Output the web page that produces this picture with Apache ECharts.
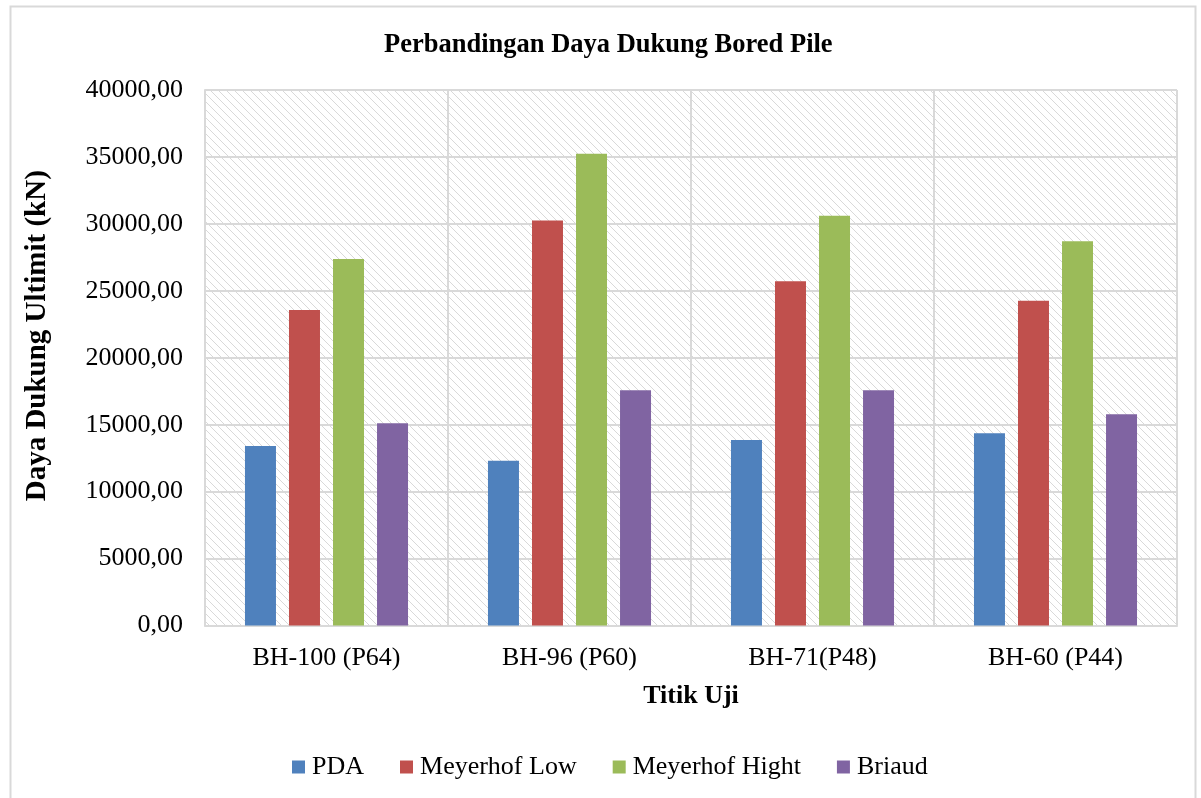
<!DOCTYPE html>
<html>
<head>
<meta charset="utf-8">
<script src="https://cdn.jsdelivr.net/npm/echarts@6/dist/echarts.min.js"></script>
<style>
html,body{margin:0;padding:0;background:#fff;}
#chart{width:1201px;height:798px;}
</style>
</head>
<body>
<div id="chart"></div>
<script>
const categories = ['BH-100 (P64)', 'BH-96 (P60)', 'BH-71(P48)', 'BH-60 (P44)'];
const seriesNames = ['PDA', 'Meyerhof Low', 'Meyerhof Hight', 'Briaud'];
const pda = [13410, 12310, 13860, 14360];
const meyerhofLow = [23570, 30250, 25710, 24260];
const meyerhofHight = [27380, 35240, 30610, 28700];
const briaud = [15100, 17570, 17570, 15780];
const colors = ['#4f81bd', '#c0504d', '#9bbb59', '#8064a2'];

const FONT = '"Liberation Serif", "Times New Roman", serif';

// hatch pattern
const pc = document.createElement('canvas');
pc.width = 8; pc.height = 8;
const pctx = pc.getContext('2d');
pctx.fillStyle = '#ffffff';
pctx.fillRect(0, 0, 8, 8);
pctx.fillStyle = '#d9d9d9';
for (let y = 0; y < 8; y++) {
  for (let x = 0; x < 8; x++) {
    const d = ((x - y) % 8 + 8) % 8;
    if (d === 0 || (d === 1 && (x + y) % 2 === 0)) pctx.fillRect(x, y, 1, 1);
  }
}

const chart = echarts.init(document.getElementById('chart'));
const dataArr = [pda, meyerhofLow, meyerhofHight, briaud];

chart.setOption({
  animation: false,
  title: {
    text: 'Perbandingan Daya Dukung Bored Pile',
    left: 379,
    top: 27,
    textStyle: { fontFamily: FONT, fontSize: 26.5, fontWeight: 'bold', color: '#000' }
  },
  graphic: [{
    type: 'rect',
    shape: { x: 10.5, y: 6.5, width: 1185, height: 800 },
    style: { fill: 'none', stroke: '#d9d9d9', lineWidth: 2 },
    silent: true, z: -10
  }],
  legend: {
    data: seriesNames,
    bottom: 13,
    left: 287,
    itemWidth: 13,
    itemHeight: 13,
    itemGap: 36,
    icon: 'rect',
    textStyle: { fontFamily: FONT, fontSize: 26, color: '#000', padding: [0, 0, 0, 2] }
  },
  grid: {
    left: 205,
    right: 24,
    top: 90,
    bottom: 172.5,
    containLabel: false,
    outerBoundsMode: 'none',
    show: true,
    borderWidth: 0,
    backgroundColor: { image: pc, repeat: 'repeat' }
  },
  xAxis: {
    type: 'category',
    data: categories,
    name: 'Titik Uji',
    nameLocation: 'middle',
    nameGap: 58,
    nameTextStyle: { fontFamily: FONT, fontSize: 26, fontWeight: 'bold', color: '#000' },
    axisLine: { show: true, lineStyle: { color: '#d9d9d9', width: 2 } },
    axisTick: { show: false },
    splitLine: { show: true, lineStyle: { color: '#d9d9d9', width: 2 } },
    axisLabel: { fontFamily: FONT, fontSize: 26, color: '#000', margin: 20 }
  },
  yAxis: {
    type: 'value',
    min: 0,
    max: 40000,
    interval: 5000,
    name: 'Daya Dukung Ultimit (kN)',
    nameLocation: 'middle',
    nameGap: 153,
    nameTextStyle: { fontFamily: FONT, fontSize: 29, fontWeight: 'bold', color: '#000', padding: [0, 0, 0, 44] },
    axisLine: { show: true, lineStyle: { color: '#d9d9d9', width: 2 } },
    axisTick: { show: false },
    splitLine: { show: true, lineStyle: { color: '#d9d9d9', width: 2 } },
    axisLabel: {
      fontFamily: FONT, fontSize: 26, color: '#000', margin: 22,
      formatter: v => v.toFixed(2).replace('.', ',')
    }
  },
  series: seriesNames.map((n, i) => ({
    name: n,
    type: 'bar',
    data: dataArr[i],
    barWidth: 31,
    barGap: '42%',
    itemStyle: { color: colors[i] }
  }))
});
</script>
</body>
</html>
